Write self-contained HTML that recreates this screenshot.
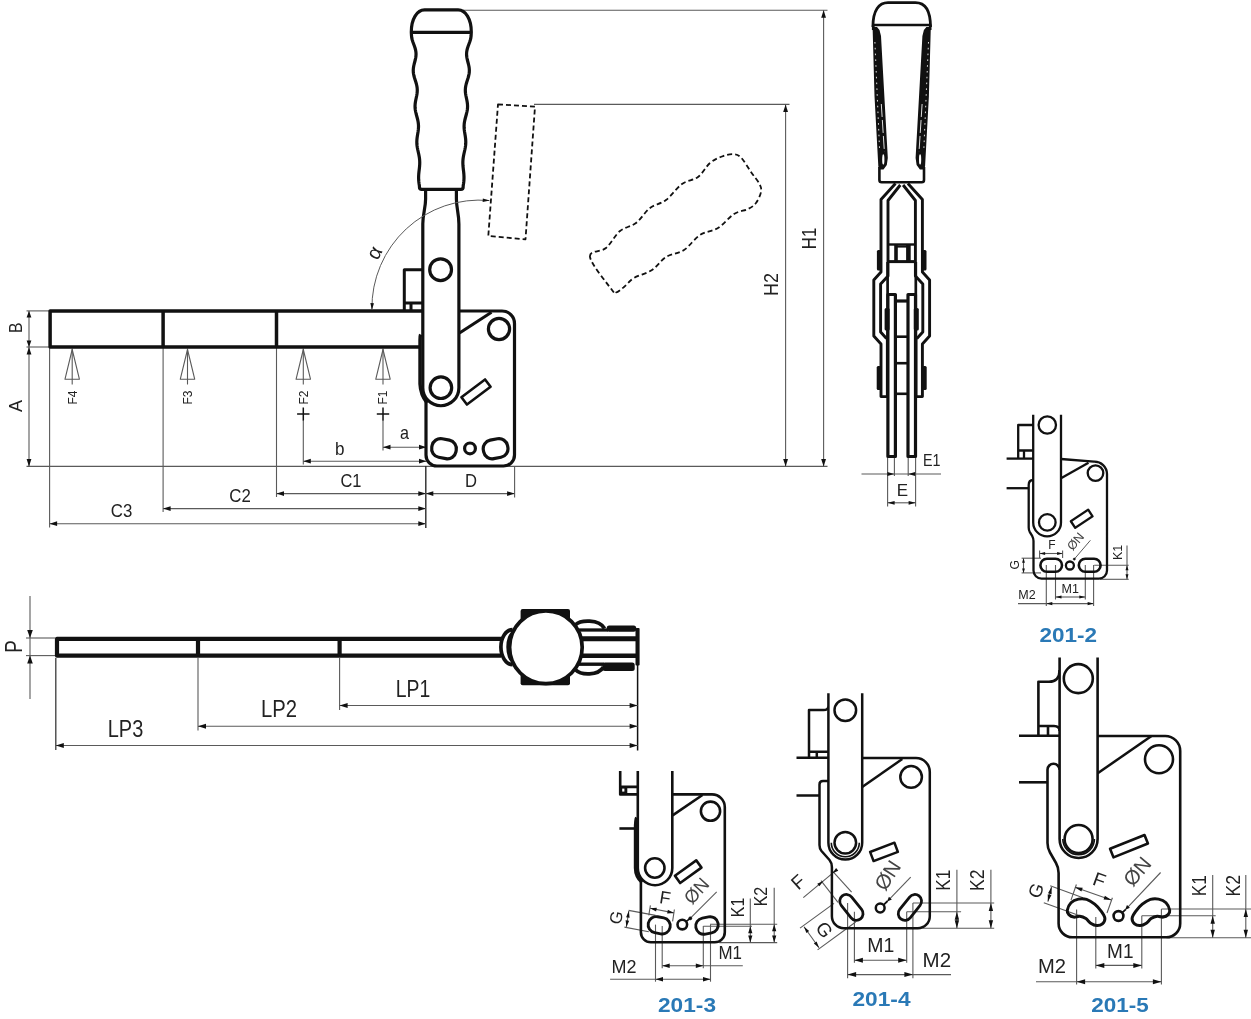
<!DOCTYPE html>
<html><head><meta charset="utf-8"><title>Vertical toggle clamp 201 - dimension drawing</title>
<style>
html,body{margin:0;padding:0;background:#fff;}
body{width:1251px;height:1019px;overflow:hidden;font-family:"Liberation Sans",sans-serif;}
svg{display:block;font-family:"Liberation Sans",sans-serif;}
svg *{stroke-linecap:butt;}
</style></head><body>
<svg width="1251" height="1019" viewBox="0 0 1251 1019" stroke-linejoin="round">
<rect x="0" y="0" width="1251" height="1019" fill="#fff"/>
<g opacity="0.999">
<g id="front">
<line x1="463" y1="10.2" x2="827.5" y2="10.2" stroke="#5a5a5a" stroke-width="1.1" />
<line x1="534" y1="104.4" x2="789.5" y2="104.4" stroke="#5a5a5a" stroke-width="1.1" />
<line x1="26.5" y1="466.4" x2="827.5" y2="466.4" stroke="#5a5a5a" stroke-width="1.1" />
<line x1="823.6" y1="10.2" x2="823.6" y2="466.4" stroke="#5a5a5a" stroke-width="1.1" />
<polygon points="823.6,10.2 826,17.7 821.2,17.7" fill="#111"/>
<polygon points="823.6,466.4 821.2,458.9 826,458.9" fill="#111"/>
<line x1="785.6" y1="104.4" x2="785.6" y2="466.4" stroke="#5a5a5a" stroke-width="1.1" />
<polygon points="785.6,104.4 788,111.9 783.2,111.9" fill="#111"/>
<polygon points="785.6,466.4 783.2,458.9 788,458.9" fill="#111"/>
<text x="816.4" y="238.5" font-size="19.7" text-anchor="middle" fill="#222" font-weight="normal" transform="rotate(-90 816.4 238.5)" textLength="21.3" lengthAdjust="spacingAndGlyphs" >H1</text>
<text x="778.2" y="284.4" font-size="19.7" text-anchor="middle" fill="#222" font-weight="normal" transform="rotate(-90 778.2 284.4)" textLength="23" lengthAdjust="spacingAndGlyphs" >H2</text>
<line x1="26.5" y1="310.9" x2="49" y2="310.9" stroke="#5a5a5a" stroke-width="1.1" />
<line x1="26.5" y1="347" x2="49" y2="347" stroke="#5a5a5a" stroke-width="1.1" />
<line x1="29" y1="310.9" x2="29" y2="347" stroke="#5a5a5a" stroke-width="1.1" />
<polygon points="29,310.9 31.4,317.4 26.6,317.4" fill="#111"/>
<polygon points="29,347 26.6,340.5 31.4,340.5" fill="#111"/>
<line x1="29" y1="347" x2="29" y2="466.4" stroke="#5a5a5a" stroke-width="1.1" />
<polygon points="29,347 31.4,354.5 26.6,354.5" fill="#111"/>
<polygon points="29,466.4 26.6,458.9 31.4,458.9" fill="#111"/>
<text x="22.3" y="327.8" font-size="19" text-anchor="middle" fill="#222" font-weight="normal" transform="rotate(-90 22.3 327.8)" textLength="10.5" lengthAdjust="spacingAndGlyphs" >B</text>
<text x="22.3" y="406" font-size="19" text-anchor="middle" fill="#222" font-weight="normal" transform="rotate(-90 22.3 406)" textLength="12" lengthAdjust="spacingAndGlyphs" >A</text>
<line x1="49.6" y1="348" x2="49.6" y2="527.5" stroke="#5a5a5a" stroke-width="1.1" />
<line x1="163.1" y1="348" x2="163.1" y2="512" stroke="#5a5a5a" stroke-width="1.1" />
<line x1="276.5" y1="348" x2="276.5" y2="497" stroke="#5a5a5a" stroke-width="1.1" />
<line x1="425.8" y1="466" x2="425.8" y2="528" stroke="#2a2a2a" stroke-width="1.4" />
<line x1="514.6" y1="466" x2="514.6" y2="497.5" stroke="#5a5a5a" stroke-width="1.1" />
<line x1="276.5" y1="493.6" x2="425.8" y2="493.6" stroke="#5a5a5a" stroke-width="1.1" />
<polygon points="276.5,493.6 284,491.2 284,496" fill="#111"/>
<polygon points="425.8,493.6 418.3,496 418.3,491.2" fill="#111"/>
<line x1="163.1" y1="508.6" x2="425.8" y2="508.6" stroke="#5a5a5a" stroke-width="1.1" />
<polygon points="163.1,508.6 170.6,506.2 170.6,511" fill="#111"/>
<polygon points="425.8,508.6 418.3,511 418.3,506.2" fill="#111"/>
<line x1="49.6" y1="523.7" x2="425.8" y2="523.7" stroke="#5a5a5a" stroke-width="1.1" />
<polygon points="49.6,523.7 57.1,521.3 57.1,526.1" fill="#111"/>
<polygon points="425.8,523.7 418.3,526.1 418.3,521.3" fill="#111"/>
<line x1="425.8" y1="493.6" x2="514.6" y2="493.6" stroke="#5a5a5a" stroke-width="1.1" />
<polygon points="425.8,493.6 433.3,491.2 433.3,496" fill="#111"/>
<polygon points="514.6,493.6 507.1,496 507.1,491.2" fill="#111"/>
<text x="351" y="486.8" font-size="19" text-anchor="middle" fill="#222" font-weight="normal" textLength="21" lengthAdjust="spacingAndGlyphs" >C1</text>
<text x="240" y="502.2" font-size="19" text-anchor="middle" fill="#222" font-weight="normal" textLength="21.5" lengthAdjust="spacingAndGlyphs" >C2</text>
<text x="121.5" y="517.3" font-size="19" text-anchor="middle" fill="#222" font-weight="normal" textLength="21.5" lengthAdjust="spacingAndGlyphs" >C3</text>
<text x="471" y="486.8" font-size="19" text-anchor="middle" fill="#222" font-weight="normal" textLength="12" lengthAdjust="spacingAndGlyphs" >D</text>
<line x1="383" y1="420" x2="383" y2="450.5" stroke="#5a5a5a" stroke-width="1.1" />
<line x1="303.3" y1="420" x2="303.3" y2="464.5" stroke="#5a5a5a" stroke-width="1.1" />
<line x1="383" y1="447.2" x2="426.5" y2="447.2" stroke="#5a5a5a" stroke-width="1.1" />
<polygon points="383,447.2 390.5,444.8 390.5,449.6" fill="#111"/>
<polygon points="426.5,447.2 419,449.6 419,444.8" fill="#111"/>
<line x1="303.3" y1="461.2" x2="426.5" y2="461.2" stroke="#5a5a5a" stroke-width="1.1" />
<polygon points="303.3,461.2 310.8,458.8 310.8,463.6" fill="#111"/>
<polygon points="426.5,461.2 419,463.6 419,458.8" fill="#111"/>
<text x="404.5" y="438.8" font-size="19" text-anchor="middle" fill="#222" font-weight="normal" textLength="9" lengthAdjust="spacingAndGlyphs" >a</text>
<text x="339.7" y="454.8" font-size="19" text-anchor="middle" fill="#222" font-weight="normal" textLength="9.5" lengthAdjust="spacingAndGlyphs" >b</text>
<line x1="72.2" y1="348.5" x2="72.2" y2="384.5" stroke="#5a5a5a" stroke-width="1.1" />
<path d="M72.2,349.5 L79.4,379.2 L65,379.2 Z" stroke="#5a5a5a" stroke-width="1.1" fill="none" />
<text x="76.5" y="397.5" font-size="12" text-anchor="middle" fill="#222" font-weight="normal" transform="rotate(-90 76.5 397.5)" >F4</text>
<line x1="187.5" y1="348.5" x2="187.5" y2="384.5" stroke="#5a5a5a" stroke-width="1.1" />
<path d="M187.5,349.5 L194.7,379.2 L180.3,379.2 Z" stroke="#5a5a5a" stroke-width="1.1" fill="none" />
<text x="191.8" y="397.5" font-size="12" text-anchor="middle" fill="#222" font-weight="normal" transform="rotate(-90 191.8 397.5)" >F3</text>
<line x1="303.3" y1="348.5" x2="303.3" y2="384.5" stroke="#5a5a5a" stroke-width="1.1" />
<path d="M303.3,349.5 L310.5,379.2 L296.1,379.2 Z" stroke="#5a5a5a" stroke-width="1.1" fill="none" />
<text x="307.6" y="397.5" font-size="12" text-anchor="middle" fill="#222" font-weight="normal" transform="rotate(-90 307.6 397.5)" >F2</text>
<line x1="383" y1="348.5" x2="383" y2="384.5" stroke="#5a5a5a" stroke-width="1.1" />
<path d="M383,349.5 L390.2,379.2 L375.8,379.2 Z" stroke="#5a5a5a" stroke-width="1.1" fill="none" />
<text x="387.3" y="397.5" font-size="12" text-anchor="middle" fill="#222" font-weight="normal" transform="rotate(-90 387.3 397.5)" >F1</text>
<line x1="297.1" y1="414" x2="309.5" y2="414" stroke="#111" stroke-width="1.5" />
<line x1="303.3" y1="407.5" x2="303.3" y2="420.5" stroke="#111" stroke-width="1.5" />
<line x1="376.8" y1="414" x2="389.2" y2="414" stroke="#111" stroke-width="1.5" />
<line x1="383" y1="407.5" x2="383" y2="420.5" stroke="#111" stroke-width="1.5" />
<path d="M498,104.3 L535,106.6 L525.5,239.3 L488.3,236 Z" stroke="#111" stroke-width="1.8" fill="none" stroke-dasharray="5 3"/>
<path d="M590,257 C589,250 601,252.33 606,248 C611,243.67 615,235.17 620,231 C625,226.83 631,226.83 636,223 C641,219.17 645,211.83 650,208 C655,204.17 660.67,204 666,200 C671.33,196 676.67,187.83 682,184 C687.33,180.17 693.33,180.5 698,177 C702.67,173.5 706,166.42 710,163 C714,159.58 718.17,157.97 722,156.5 C725.83,155.03 729.83,154.03 733,154.2 C736.17,154.37 738,154.53 741,157.5 C744,160.47 747.92,167.58 751,172 C754.08,176.42 757.83,180.67 759.5,184 C761.17,187.33 761.58,188.83 761,192 C760.42,195.17 758.17,200.17 756,203 C753.83,205.83 751.67,207.17 748,209 C744.33,210.83 739,210.83 734,214 C729,217.17 723.67,224.5 718,228 C712.33,231.5 705.67,231.33 700,235 C694.33,238.67 689.67,246.33 684,250 C678.33,253.67 671.33,253.67 666,257 C660.67,260.33 657.33,266.5 652,270 C646.67,273.5 638.67,275.17 634,278 C629.33,280.83 627,284.58 624,287 C621,289.42 618,292 616,292.5 C614,293 616.33,295.92 612,290 C607.67,284.08 591,264 590,257Z" stroke="#111" stroke-width="1.8" fill="none" stroke-dasharray="5 3"/>
<path d="M424,311 L50.1,311 L50.1,347 L419.5,347" stroke="#111" stroke-width="3.5" fill="none" />
<line x1="163.1" y1="311" x2="163.1" y2="347" stroke="#111" stroke-width="3.5" />
<line x1="276.5" y1="311" x2="276.5" y2="347" stroke="#111" stroke-width="3.5" />
<path d="M423,269.7 L404.3,269.7 L404.3,310 M404.3,303 L423,303 M411,303 L411,310" stroke="#111" stroke-width="3" fill="none" />
<path d="M458.9,311 L502,311 A12.5,12.5 0 0 1 514.5,323.5 L514.5,455 A11,11 0 0 1 503.5,466 L437,466 A11,11 0 0 1 426,455 L426,399" stroke="#111" stroke-width="3.2" fill="none" />
<circle cx="499" cy="329" r="10.6" stroke="#111" stroke-width="3.2" fill="none"/>
<line x1="459.5" y1="333" x2="491.5" y2="312.2" stroke="#111" stroke-width="3" />
<rect x="-14.8" y="-4.6" width="29.6" height="9.2" rx="0" stroke="#111" stroke-width="2.6" fill="none" transform="translate(476,392) rotate(-37)"/>
<rect x="-12.3" y="-9.4" width="24.6" height="18.8" rx="8.6" stroke="#111" stroke-width="3.2" fill="none" transform="translate(444,448.7) rotate(11)"/>
<rect x="-12.3" y="-9.4" width="24.6" height="18.8" rx="8.6" stroke="#111" stroke-width="3.2" fill="none" transform="translate(495.6,448.7) rotate(-11)"/>
<circle cx="470" cy="448.4" r="5.4" stroke="#111" stroke-width="3.2" fill="none"/>
<path d="M420.6,334.5 C420,336 420,338 420,340 L420,384 C420.3,392 423,398 427,403" stroke="#111" stroke-width="3.4" fill="none" />
<path d="M425.6,189 L425.6,199 C425.6,208 422.8,214 422.8,224 L422.8,387.7 A18.05,18.05 0 0 0 458.9,387.7 L458.9,224 C458.9,214 456.4,208 456.4,199 L456.4,189" stroke="#111" stroke-width="3.2" fill="#fff" />
<circle cx="440.6" cy="269.7" r="10.9" stroke="#111" stroke-width="3.2" fill="none"/>
<circle cx="440.9" cy="387.7" r="10.8" stroke="#111" stroke-width="3.2" fill="none"/>
<path d="M411.3,32 L411.4,34 L411.51,36 L411.78,38 L412.27,40 L412.91,42 L413.64,44 L414.38,46 L415.05,48 L415.58,50 L415.92,52 L416.05,54 L415.95,56 L415.66,58 L415.23,60 L414.71,62 L414.19,64 L413.73,66 L413.4,68 L413.25,70 L413.3,72 L413.55,74 L413.98,76 L414.54,78 L415.17,80 L415.82,82 L416.4,84 L416.86,86 L417.16,88 L417.28,90 L417.21,92 L416.98,94 L416.62,96 L416.2,98 L415.78,100 L415.41,102 L415.15,104 L415.03,106 L415.09,108 L415.31,110 L415.69,112 L416.17,114 L416.71,116 L417.26,118 L417.75,120 L418.14,122 L418.4,124 L418.51,126 L418.47,128 L418.29,130 L418.02,132 L417.69,134 L417.36,136 L417.08,138 L416.89,140 L416.82,142 L416.88,144 L417.08,146 L417.4,148 L417.8,150 L418.25,152 L418.7,154 L419.1,156 L419.43,158 L419.64,160 L419.74,162 L419.72,164 L419.6,166 L419.41,168 L419.18,170 L418.94,172 L418.75,174 L418.63,176 L418.6,178 L418.67,180 L418.85,182 L419.11,184 L419.43,186 L419.43,187 Q419.43,189.3 421.73,189.3 L460.87,189.3 Q463.17,189.3 463.17,187 L463.17,186 L463.49,184 L463.75,182 L463.93,180 L464,178 L463.97,176 L463.85,174 L463.66,172 L463.42,170 L463.19,168 L463,166 L462.88,164 L462.86,162 L462.96,160 L463.17,158 L463.5,156 L463.9,154 L464.35,152 L464.8,150 L465.2,148 L465.52,146 L465.72,144 L465.78,142 L465.71,140 L465.52,138 L465.24,136 L464.91,134 L464.58,132 L464.31,130 L464.13,128 L464.09,126 L464.2,124 L464.46,122 L464.85,120 L465.34,118 L465.89,116 L466.43,114 L466.91,112 L467.29,110 L467.51,108 L467.57,106 L467.45,104 L467.19,102 L466.82,100 L466.4,98 L465.98,96 L465.62,94 L465.39,92 L465.32,90 L465.44,88 L465.74,86 L466.2,84 L466.78,82 L467.43,80 L468.06,78 L468.62,76 L469.05,74 L469.3,72 L469.35,70 L469.2,68 L468.87,66 L468.41,64 L467.89,62 L467.37,60 L466.94,58 L466.65,56 L466.55,54 L466.68,52 L467.02,50 L467.55,48 L468.22,46 L468.96,44 L469.69,42 L470.33,40 L470.82,38 L471.09,36 L471.2,34 L471.3,32 C471.3,19 465.6,10 458.1,9.9 L424.5,9.9 C417,10 411.3,19 411.3,32 Z" stroke="#111" stroke-width="3.2" fill="#fff" />
<line x1="411.3" y1="32.3" x2="471.3" y2="32.3" stroke="#111" stroke-width="3.2" />
<path d="M371.92,309.58 A107.6,107.6 0 0 1 489.25,200.54" stroke="#5a5a5a" stroke-width="1" fill="none" />
<polygon points="371.92,310.08 370.36,303.02 373.96,303.14" fill="#111"/>
<polygon points="489.75,200.54 482.67,201.97 482.86,198.38" fill="#111"/>
<text x="380.3" y="256" font-size="20" text-anchor="middle" fill="#222" font-weight="normal" transform="rotate(-62 380.3 256)" >&#945;</text>
</g>
<g id="side">
<line x1="887.6" y1="458" x2="887.6" y2="506.5" stroke="#5a5a5a" stroke-width="1.1" />
<line x1="915.6" y1="458" x2="915.6" y2="506.5" stroke="#5a5a5a" stroke-width="1.1" />
<line x1="894.4" y1="458" x2="894.4" y2="476" stroke="#5a5a5a" stroke-width="1.1" />
<line x1="908.2" y1="458" x2="908.2" y2="476" stroke="#5a5a5a" stroke-width="1.1" />
<line x1="861.5" y1="474" x2="941" y2="474" stroke="#5a5a5a" stroke-width="1.1" />
<polygon points="894.4,474 887.4,475.9 887.4,472.1" fill="#111"/>
<polygon points="908.2,474 915.2,472.1 915.2,475.9" fill="#111"/>
<line x1="887.6" y1="502.8" x2="915.6" y2="502.8" stroke="#5a5a5a" stroke-width="1.1" />
<polygon points="887.6,502.8 894.6,500.9 894.6,504.7" fill="#111"/>
<polygon points="915.6,502.8 908.6,504.7 908.6,500.9" fill="#111"/>
<text x="923" y="466.4" font-size="17" text-anchor="start" fill="#222" font-weight="normal" textLength="17.5" lengthAdjust="spacingAndGlyphs" >E1</text>
<text x="902.3" y="495.6" font-size="17" text-anchor="middle" fill="#222" font-weight="normal" >E</text>
<polygon points="872.4,27 872.7,31 874.5,96 878.3,166 879.2,169.5 883.5,169.5 886.8,165 887.8,158 881,36 879.5,30 877,27" fill="#111"/>
<line x1="881.3" y1="104" x2="884.4" y2="152" stroke="#e0e0e0" stroke-width="1.0" stroke-dasharray="13 3"/>
<line x1="874.9" y1="42" x2="879.6" y2="150" stroke="#f4f4f4" stroke-width="0.9" stroke-dasharray="1.6 4.2"/>
<ellipse cx="883.3" cy="159.5" rx="1.1" ry="5.2" fill="#fff"/>
<polygon points="931,27 930.7,31 928.9,96 925.1,166 924.2,169.5 919.9,169.5 916.6,165 915.6,158 922.4,36 923.9,30 926.4,27" fill="#111"/>
<line x1="922.1" y1="104" x2="919" y2="152" stroke="#e0e0e0" stroke-width="1.0" stroke-dasharray="13 3"/>
<line x1="928.5" y1="42" x2="923.8" y2="150" stroke="#f4f4f4" stroke-width="0.9" stroke-dasharray="1.6 4.2"/>
<ellipse cx="920.1" cy="159.5" rx="1.1" ry="5.2" fill="#fff"/>
<path d="M872.9,27 C872.9,10 879,2.6 888,2.6 L915.4,2.6 C924.4,2.6 930.5,10 930.5,27" stroke="#111" stroke-width="2.8" fill="none" />
<line x1="872" y1="25" x2="931.4" y2="25" stroke="#111" stroke-width="2.6" />
<path d="M873.2,25 L873.2,30 M930.2,25 L930.2,30" stroke="#111" stroke-width="2.6" fill="none" />
<path d="M879.4,167 L879.4,180 Q879.4,182.3 881.7,182.3 L921.7,182.3 Q924,182.3 924,180 L924,167" stroke="#111" stroke-width="2.6" fill="none" />
<path d="M895.5,183.5 L881,199.5 L881,272 L873.8,280 L873.8,336 L881,344 L881,396.6 L888.5,396.6" stroke="#111" stroke-width="2.9" fill="none" />
<path d="M900.3,185 L888,200.5 L888,276 L880.6,284 L880.6,332 L886.5,338.5" stroke="#111" stroke-width="2.9" fill="none" />
<line x1="887.6" y1="262" x2="887.6" y2="340" stroke="#111" stroke-width="2.7" />
<rect x="887.9" y="294.5" width="7.5" height="162" rx="0" stroke="#111" stroke-width="3.2" fill="#fff" />
<line x1="887.2" y1="338" x2="887.2" y2="396.6" stroke="#111" stroke-width="2.6" />
<rect x="876.9" y="250" width="4.1" height="20.5" rx="1.5" stroke="#111" stroke-width="0" fill="#111" />
<rect x="884.6" y="308" width="5" height="22.5" rx="1.5" stroke="#111" stroke-width="0" fill="#111" />
<rect x="876.7" y="366" width="4.3" height="24" rx="1.5" stroke="#111" stroke-width="0" fill="#111" />
<path d="M907.9,183.5 L922.4,199.5 L922.4,272 L929.6,280 L929.6,336 L922.4,344 L922.4,396.6 L914.9,396.6" stroke="#111" stroke-width="2.9" fill="none" />
<path d="M903.1,185 L915.4,200.5 L915.4,276 L922.8,284 L922.8,332 L916.9,338.5" stroke="#111" stroke-width="2.9" fill="none" />
<line x1="915.8" y1="262" x2="915.8" y2="340" stroke="#111" stroke-width="2.7" />
<rect x="908" y="294.5" width="7.5" height="162" rx="0" stroke="#111" stroke-width="3.2" fill="#fff" />
<line x1="916.2" y1="338" x2="916.2" y2="396.6" stroke="#111" stroke-width="2.6" />
<rect x="922.4" y="250" width="4.1" height="20.5" rx="1.5" stroke="#111" stroke-width="0" fill="#111" />
<rect x="913.8" y="308" width="5" height="22.5" rx="1.5" stroke="#111" stroke-width="0" fill="#111" />
<rect x="922.4" y="366" width="4.3" height="24" rx="1.5" stroke="#111" stroke-width="0" fill="#111" />
<path d="M888,244.5 L915.4,244.5" stroke="#111" stroke-width="2.4" fill="none" />
<line x1="888" y1="261.6" x2="915.4" y2="261.6" stroke="#111" stroke-width="3" />
<line x1="896" y1="244" x2="896" y2="261.6" stroke="#111" stroke-width="3.6" />
<line x1="908.4" y1="244" x2="908.4" y2="261.6" stroke="#111" stroke-width="4.6" />
<line x1="897" y1="246.5" x2="908" y2="246.5" stroke="#111" stroke-width="2.2" />
<line x1="896" y1="301" x2="907.4" y2="301" stroke="#111" stroke-width="3.2" />
<line x1="896" y1="336.7" x2="907.4" y2="336.7" stroke="#111" stroke-width="2.6" />
<line x1="896" y1="363.2" x2="907.4" y2="363.2" stroke="#111" stroke-width="2.6" />
<line x1="896" y1="393.8" x2="907.4" y2="393.8" stroke="#111" stroke-width="2.6" />
</g>
<g id="top">
<line x1="30" y1="596" x2="30" y2="699" stroke="#5a5a5a" stroke-width="1.1" />
<line x1="26" y1="638" x2="55" y2="638" stroke="#5a5a5a" stroke-width="1.1" />
<line x1="26" y1="655.6" x2="55" y2="655.6" stroke="#5a5a5a" stroke-width="1.1" />
<polygon points="30,638 27.2,630 32.8,630" fill="#111"/>
<polygon points="30,655.6 32.8,663.6 27.2,663.6" fill="#111"/>
<text x="21.6" y="646.6" font-size="23.5" text-anchor="middle" fill="#222" font-weight="normal" transform="rotate(-90 21.6 646.6)" textLength="12.5" lengthAdjust="spacingAndGlyphs" >P</text>
<line x1="55.8" y1="658" x2="55.8" y2="750" stroke="#3a3a3a" stroke-width="1.3" />
<line x1="198" y1="658" x2="198" y2="730.5" stroke="#5a5a5a" stroke-width="1.1" />
<line x1="339.6" y1="658" x2="339.6" y2="710" stroke="#5a5a5a" stroke-width="1.1" />
<line x1="637.6" y1="665" x2="637.6" y2="750.5" stroke="#111" stroke-width="1.5" />
<line x1="339.6" y1="705.5" x2="637.6" y2="705.5" stroke="#5a5a5a" stroke-width="1.1" />
<polygon points="339.6,705.5 347.6,703 347.6,708" fill="#111"/>
<polygon points="637.6,705.5 629.6,708 629.6,703" fill="#111"/>
<line x1="198" y1="726.3" x2="637.6" y2="726.3" stroke="#5a5a5a" stroke-width="1.1" />
<polygon points="198,726.3 206,723.8 206,728.8" fill="#111"/>
<polygon points="637.6,726.3 629.6,728.8 629.6,723.8" fill="#111"/>
<line x1="55.8" y1="745.5" x2="637.6" y2="745.5" stroke="#5a5a5a" stroke-width="1.1" />
<polygon points="55.8,745.5 63.8,743 63.8,748" fill="#111"/>
<polygon points="637.6,745.5 629.6,748 629.6,743" fill="#111"/>
<text x="413" y="697.3" font-size="24" text-anchor="middle" fill="#222" font-weight="normal" textLength="34.5" lengthAdjust="spacingAndGlyphs" >LP1</text>
<text x="279" y="717.3" font-size="24" text-anchor="middle" fill="#222" font-weight="normal" textLength="36" lengthAdjust="spacingAndGlyphs" >LP2</text>
<text x="125.5" y="737.3" font-size="24" text-anchor="middle" fill="#222" font-weight="normal" textLength="35.5" lengthAdjust="spacingAndGlyphs" >LP3</text>
<path d="M501,638.9 L57,638.9 L57,655.7 L501,655.7" stroke="#111" stroke-width="4.2" fill="none" />
<line x1="198" y1="638.9" x2="198" y2="655.7" stroke="#111" stroke-width="4.2" />
<line x1="339.6" y1="638.9" x2="339.6" y2="655.7" stroke="#111" stroke-width="4.2" />
<path d="M512.5,629.6 A11.6,17.5 0 0 0 512.5,664.6" stroke="#111" stroke-width="3.7" fill="none" />
<path d="M513,633.6 A5.2,13.5 0 0 0 513,660.6" stroke="#111" stroke-width="3" fill="none" />
<line x1="578" y1="638.8" x2="637" y2="638.8" stroke="#111" stroke-width="5" />
<line x1="578" y1="655.7" x2="637" y2="655.7" stroke="#111" stroke-width="4.6" />
<line x1="577" y1="630" x2="608" y2="630" stroke="#111" stroke-width="3.3" />
<line x1="577" y1="664.2" x2="604" y2="664.2" stroke="#111" stroke-width="3.4" />
<rect x="606.7" y="625.4" width="29.5" height="6.3" rx="2.5" stroke="#111" stroke-width="0" fill="#111" />
<rect x="602.5" y="662.5" width="32.2" height="8.4" rx="2.5" stroke="#111" stroke-width="0" fill="#111" />
<rect x="635.5" y="628" width="4.1" height="37.5" rx="1" stroke="#111" stroke-width="0" fill="#111" />
<path d="M575.5,624.8 C580,620 599,618.5 604.5,628.5" stroke="#111" stroke-width="3.8" fill="none" />
<path d="M575.5,669.8 C581,675.5 598,676 603.5,667" stroke="#111" stroke-width="3.8" fill="none" />
<rect x="520.6" y="608.9" width="49.4" height="76.4" rx="2" stroke="#111" stroke-width="0" fill="#111" />
<circle cx="545.9" cy="647.3" r="36.3" stroke="#111" stroke-width="3.7" fill="#fff"/>
</g>
<g id="d2">
<line x1="1039.6" y1="550.5" x2="1039.6" y2="558" stroke="#5a5a5a" stroke-width="1.1" />
<line x1="1062.6" y1="550.5" x2="1062.6" y2="558" stroke="#5a5a5a" stroke-width="1.1" />
<line x1="1039.6" y1="553.5" x2="1062.6" y2="553.5" stroke="#5a5a5a" stroke-width="1.1" />
<polygon points="1039.6,553.5 1045.1,552 1045.1,555" fill="#111"/>
<polygon points="1062.6,553.5 1057.1,555 1057.1,552" fill="#111"/>
<text x="1051.8" y="549.1" font-size="12" text-anchor="middle" fill="#222" font-weight="normal">F</text>
<line x1="1021.6" y1="558.2" x2="1041" y2="558.2" stroke="#5a5a5a" stroke-width="1.1" />
<line x1="1021.6" y1="572.9" x2="1041" y2="572.9" stroke="#5a5a5a" stroke-width="1.1" />
<line x1="1023.5" y1="558.2" x2="1023.5" y2="572.9" stroke="#5a5a5a" stroke-width="1.1" />
<polygon points="1023.5,558.2 1024.9,562.7 1022.1,562.7" fill="#111"/>
<polygon points="1023.5,572.9 1022.1,568.4 1024.9,568.4" fill="#111"/>
<text x="1014.3" y="569.1" font-size="12" text-anchor="middle" fill="#222" font-weight="normal" transform="rotate(-90 1014.3 564.8)">G</text>
<line x1="1127" y1="545.4" x2="1127" y2="579.3" stroke="#5a5a5a" stroke-width="1.1" />
<line x1="1094.2" y1="565.2" x2="1128.7" y2="565.2" stroke="#5a5a5a" stroke-width="1.1" />
<line x1="1100" y1="579.3" x2="1128.7" y2="579.3" stroke="#5a5a5a" stroke-width="1.1" />
<polygon points="1127,565.2 1128.5,570.2 1125.5,570.2" fill="#111"/>
<polygon points="1127,579.3 1125.5,574.3 1128.5,574.3" fill="#111"/>
<text x="1117.2" y="556.88" font-size="12.5" text-anchor="middle" fill="#222" font-weight="normal" transform="rotate(-90 1117.2 552.4)">K1</text>
<line x1="1046.3" y1="565" x2="1046.3" y2="606" stroke="#5a5a5a" stroke-width="1.1" />
<line x1="1055.5" y1="565" x2="1055.5" y2="599.5" stroke="#5a5a5a" stroke-width="1.1" />
<line x1="1085.3" y1="565" x2="1085.3" y2="599.5" stroke="#5a5a5a" stroke-width="1.1" />
<line x1="1093.6" y1="565" x2="1093.6" y2="606" stroke="#5a5a5a" stroke-width="1.1" />
<line x1="1055.5" y1="597" x2="1085.3" y2="597" stroke="#5a5a5a" stroke-width="1.1" />
<polygon points="1055.5,597 1061.5,595.4 1061.5,598.6" fill="#111"/>
<polygon points="1085.3,597 1079.3,598.6 1079.3,595.4" fill="#111"/>
<line x1="1018" y1="603.6" x2="1093.6" y2="603.6" stroke="#5a5a5a" stroke-width="1.1" />
<polygon points="1046.3,603.6 1052.3,602 1052.3,605.2" fill="#111"/>
<polygon points="1093.6,603.6 1087.6,605.2 1087.6,602" fill="#111"/>
<text x="1070.3" y="592.68" font-size="12.5" text-anchor="middle" fill="#222" font-weight="normal">M1</text>
<text x="1027" y="599.08" font-size="12.5" text-anchor="middle" fill="#222" font-weight="normal">M2</text>
<line x1="1074.4" y1="559" x2="1090.4" y2="540.3" stroke="#5a5a5a" stroke-width="1" />
<circle cx="1074.3" cy="559.1" r="1.1" stroke="#111" stroke-width="0.5" fill="#111"/>
<text x="1075.3" y="545.77" font-size="12.5" text-anchor="middle" fill="#444" font-weight="normal" transform="rotate(-50 1075.3 541.3)">&#216;N</text>
<path d="M1061,459 L1094,461.6 A12.5,12.5 0 0 1 1107,474 L1107,570.6 A8,8 0 0 1 1099,578.6 L1041.5,578.6 A8,8 0 0 1 1033.5,570.6 L1033.5,541 Q1033.5,538.4 1032.3,536.2 L1029.7,531.8 Q1028.7,530 1028.7,527.5 L1028.7,485 Q1028.7,480 1033.2,480" stroke="#111" stroke-width="2.3" fill="none" />
<circle cx="1095.5" cy="473.1" r="7.8" stroke="#111" stroke-width="2.3" fill="none"/>
<line x1="1061" y1="478.3" x2="1088.5" y2="462.7" stroke="#111" stroke-width="2.3" />
<rect x="-10.4" y="-3.95" width="20.8" height="7.9" rx="0" stroke="#111" stroke-width="2.3" fill="none" transform="translate(1081.7,518.8) rotate(-33.6)"/>
<rect x="-10.8" y="-6.5" width="21.6" height="13" rx="6.5" stroke="#111" stroke-width="2.5999999999999996" fill="none" transform="translate(1051.2,565.3) rotate(0)"/>
<rect x="-10.9" y="-6.5" width="21.8" height="13" rx="6.5" stroke="#111" stroke-width="2.5999999999999996" fill="none" transform="translate(1089.7,565.3) rotate(0)"/>
<circle cx="1069.9" cy="565.5" r="4" stroke="#111" stroke-width="2.3" fill="none"/>
<path d="M1033.2,425 L1018.2,425 L1018.2,458.6 M1018.2,450.5 L1033.2,450.5 M1024,450.5 L1024,458.6" stroke="#111" stroke-width="2.3" fill="none" />
<line x1="1006.6" y1="458.6" x2="1033.2" y2="458.6" stroke="#111" stroke-width="2.3" />
<line x1="1006.6" y1="488.2" x2="1028.7" y2="488.2" stroke="#111" stroke-width="2.3" />
<path d="M1033.2,414.7 L1033.2,522.4 A13.9,13.9 0 0 0 1061,522.4 L1061,414.7" stroke="#111" stroke-width="2.3" fill="#fff" />
<circle cx="1047.3" cy="425" r="8.7" stroke="#111" stroke-width="2.3" fill="none"/>
<circle cx="1047.3" cy="522.4" r="8.3" stroke="#111" stroke-width="2.3" fill="none"/>
<text x="1068.2" y="642.2" font-size="20" text-anchor="middle" fill="#2a79b6" font-weight="bold" textLength="57.5" lengthAdjust="spacingAndGlyphs" >201-2</text>
</g>
<g id="d3">
<line x1="650.4" y1="905.3" x2="648.8" y2="915.4" stroke="#5a5a5a" stroke-width="1.1" />
<line x1="674.4" y1="909.5" x2="672.6" y2="921.3" stroke="#5a5a5a" stroke-width="1.1" />
<line x1="650.1" y1="908.3" x2="673.9" y2="912.9" stroke="#5a5a5a" stroke-width="1.1" />
<polygon points="650.1,908.3 656.84,907.67 656.12,911.4" fill="#111"/>
<polygon points="673.9,912.9 667.16,913.53 667.88,909.8" fill="#111"/>
<text x="665.3" y="904.04" font-size="18" text-anchor="middle" fill="#222" font-weight="normal" transform="rotate(9 665.3 897.6)">F</text>
<line x1="628.6" y1="910.4" x2="655.5" y2="915.4" stroke="#5a5a5a" stroke-width="1.1" />
<line x1="624.4" y1="927.1" x2="648.8" y2="931.8" stroke="#5a5a5a" stroke-width="1.1" />
<line x1="628.8" y1="911" x2="626.4" y2="926.9" stroke="#5a5a5a" stroke-width="1.1" />
<polygon points="628.8,911 629.61,917.7 626.05,917.16" fill="#111"/>
<polygon points="626.4,926.9 625.59,920.2 629.15,920.74" fill="#111"/>
<text x="616" y="923.49" font-size="17" text-anchor="middle" fill="#222" font-weight="normal" transform="rotate(-78 616 917.4)">G</text>
<line x1="750.3" y1="898.6" x2="750.3" y2="942.6" stroke="#5a5a5a" stroke-width="1.1" />
<line x1="774.2" y1="887.7" x2="774.2" y2="942.6" stroke="#5a5a5a" stroke-width="1.1" />
<line x1="703.3" y1="926.3" x2="752" y2="926.3" stroke="#5a5a5a" stroke-width="1.1" />
<line x1="710" y1="924.3" x2="777.2" y2="924.3" stroke="#5a5a5a" stroke-width="1.1" />
<line x1="719.3" y1="942.6" x2="777.2" y2="942.6" stroke="#5a5a5a" stroke-width="1.1" />
<polygon points="750.3,926.3 752.4,933.3 748.2,933.3" fill="#111"/>
<polygon points="750.3,942.6 748.2,935.6 752.4,935.6" fill="#111"/>
<polygon points="774.2,924.3 776.3,931.3 772.1,931.3" fill="#111"/>
<polygon points="774.2,942.6 772.1,935.6 776.3,935.6" fill="#111"/>
<text x="737.2" y="914.02" font-size="18.5" text-anchor="middle" fill="#222" font-weight="normal" transform="rotate(-90 737.2 907.4)" textLength="19.5" lengthAdjust="spacingAndGlyphs">K1</text>
<text x="760.8" y="903.12" font-size="18.5" text-anchor="middle" fill="#222" font-weight="normal" transform="rotate(-90 760.8 896.5)" textLength="19.5" lengthAdjust="spacingAndGlyphs">K2</text>
<line x1="655.5" y1="924.6" x2="655.5" y2="981.7" stroke="#5a5a5a" stroke-width="1.1" />
<line x1="662.2" y1="926" x2="662.2" y2="968.3" stroke="#5a5a5a" stroke-width="1.1" />
<line x1="703.3" y1="926" x2="703.3" y2="968.3" stroke="#5a5a5a" stroke-width="1.1" />
<line x1="710.5" y1="924.6" x2="710.5" y2="981.7" stroke="#5a5a5a" stroke-width="1.1" />
<line x1="662.2" y1="965.8" x2="742.8" y2="965.8" stroke="#5a5a5a" stroke-width="1.1" />
<polygon points="662.2,965.8 669.7,963.5 669.7,968.1" fill="#111"/>
<polygon points="703.3,965.8 695.8,968.1 695.8,963.5" fill="#111"/>
<line x1="610.1" y1="979.2" x2="710.5" y2="979.2" stroke="#5a5a5a" stroke-width="1.1" />
<polygon points="655.5,979.2 663,976.9 663,981.5" fill="#111"/>
<polygon points="710.5,979.2 703,981.5 703,976.9" fill="#111"/>
<text x="730.2" y="959.2" font-size="18.5" text-anchor="middle" fill="#222" font-weight="normal" textLength="23.5" lengthAdjust="spacingAndGlyphs" >M1</text>
<text x="624" y="972.7" font-size="18.5" text-anchor="middle" fill="#222" font-weight="normal" textLength="25" lengthAdjust="spacingAndGlyphs" >M2</text>
<line x1="690.7" y1="917.9" x2="716.7" y2="891.9" stroke="#5a5a5a" stroke-width="1.1" />
<circle cx="690.3" cy="918.3" r="1.6" stroke="#111" stroke-width="0.5" fill="#111"/>
<line x1="690.5" y1="918.1" x2="686" y2="921.6" stroke="#111" stroke-width="1.6" />
<text x="696.3" y="897.42" font-size="18.5" text-anchor="middle" fill="#444" font-weight="normal" transform="rotate(-48 696.3 890.8)">&#216;N</text>
<path d="M672.3,794.4 L712,794.4 A12.8,12.8 0 0 1 724.8,807.2 L724.8,932.3 A10,10 0 0 1 714.8,942.3 L650.9,942.3 A10,10 0 0 1 640.9,932.3 L640.9,878" stroke="#111" stroke-width="2.6" fill="none" />
<circle cx="710.5" cy="811.2" r="9.6" stroke="#111" stroke-width="2.6" fill="none"/>
<line x1="672.6" y1="815.4" x2="702.5" y2="795" stroke="#111" stroke-width="2.6" />
<rect x="-13.15" y="-4.45" width="26.3" height="8.9" rx="0" stroke="#111" stroke-width="2.6" fill="none" transform="translate(688.2,871.7) rotate(-35.9)"/>
<rect x="-11.1" y="-8.1" width="22.2" height="16.2" rx="8" stroke="#111" stroke-width="2.9" fill="none" transform="translate(659.2,925.3) rotate(11)"/>
<rect x="-11.3" y="-8.2" width="22.6" height="16.4" rx="8.1" stroke="#111" stroke-width="2.9" fill="none" transform="translate(707,925.5) rotate(-11)"/>
<circle cx="682.3" cy="924.6" r="4.8" stroke="#111" stroke-width="2.6" fill="none"/>
<path d="M620.2,771 L620.2,794.4 L637.8,794.4 M620.2,786.9 L637.8,786.9 M626,786.9 L626,794.4" stroke="#111" stroke-width="2.6" fill="none" />
<rect x="620.2" y="786.9" width="5.8" height="7.5" rx="0" stroke="#111" stroke-width="0" fill="#111" />
<rect x="622.2" y="788.6" width="2.2" height="3" rx="0" stroke="#111" stroke-width="0" fill="#fff" />
<line x1="619.4" y1="828.5" x2="635.3" y2="828.5" stroke="#111" stroke-width="2.6" />
<path d="M636.6,817.5 C635.4,820 635.4,824 635.4,829 L635.4,868 A19.4,19.4 0 0 0 642,882.5" stroke="#111" stroke-width="3.2" fill="none" />
<path d="M637.8,771 L637.8,868 A17.25,17.25 0 0 0 672.3,868 L672.3,771" stroke="#111" stroke-width="2.6" fill="#fff" />
<circle cx="654.8" cy="868" r="9.7" stroke="#111" stroke-width="2.6" fill="none"/>
<text x="687" y="1012" font-size="20" text-anchor="middle" fill="#2a79b6" font-weight="bold" textLength="58" lengthAdjust="spacingAndGlyphs" >201-3</text>
</g>
<g id="d4">
<line x1="803.3" y1="897.6" x2="833" y2="872.8" stroke="#5a5a5a" stroke-width="1.1" />
<line x1="831.9" y1="870.4" x2="851.6" y2="892.1" stroke="#5a5a5a" stroke-width="1.1" />
<line x1="821" y1="880.6" x2="838" y2="902.3" stroke="#5a5a5a" stroke-width="1.1" />
<polygon points="823.3,880.9 819.39,886.37 817.22,883.75" fill="#111"/>
<polygon points="832.2,873.5 836.11,868.03 838.28,870.65" fill="#111"/>
<text x="798" y="888.7" font-size="19" text-anchor="middle" fill="#222" font-weight="normal" transform="rotate(-42 798 881.9)">F</text>
<line x1="800" y1="928.1" x2="834" y2="903.4" stroke="#5a5a5a" stroke-width="1.1" />
<line x1="817.6" y1="949.9" x2="855.7" y2="922" stroke="#5a5a5a" stroke-width="1.1" />
<line x1="804" y1="926.8" x2="819" y2="947.8" stroke="#5a5a5a" stroke-width="1.1" />
<polygon points="804,926.8 809.16,931.1 806.39,933.08" fill="#111"/>
<polygon points="819,947.8 813.84,943.5 816.61,941.52" fill="#111"/>
<text x="824.6" y="936.4" font-size="19" text-anchor="middle" fill="#222" font-weight="normal" transform="rotate(55 824.6 929.6)">G</text>
<line x1="956.9" y1="869.8" x2="956.9" y2="928.2" stroke="#5a5a5a" stroke-width="1.1" />
<line x1="990.9" y1="869.8" x2="990.9" y2="928.2" stroke="#5a5a5a" stroke-width="1.1" />
<line x1="906.7" y1="911.8" x2="961.1" y2="911.8" stroke="#5a5a5a" stroke-width="1.1" />
<line x1="912.9" y1="903" x2="994.2" y2="903" stroke="#5a5a5a" stroke-width="1.1" />
<line x1="922.5" y1="928.2" x2="994.2" y2="928.2" stroke="#5a5a5a" stroke-width="1.1" />
<polygon points="956.9,911.8 959.1,919.8 954.7,919.8" fill="#111"/>
<polygon points="956.9,928.2 954.7,920.2 959.1,920.2" fill="#111"/>
<polygon points="990.9,903 993.1,911 988.7,911" fill="#111"/>
<polygon points="990.9,928.2 988.7,920.2 993.1,920.2" fill="#111"/>
<text x="942.2" y="887.82" font-size="21" text-anchor="middle" fill="#222" font-weight="normal" transform="rotate(-90 942.2 880.3)" textLength="21" lengthAdjust="spacingAndGlyphs">K1</text>
<text x="976.2" y="887.82" font-size="21" text-anchor="middle" fill="#222" font-weight="normal" transform="rotate(-90 976.2 880.3)" textLength="21.5" lengthAdjust="spacingAndGlyphs">K2</text>
<line x1="847.6" y1="903" x2="847.6" y2="978.2" stroke="#5a5a5a" stroke-width="1.1" />
<line x1="854.4" y1="911.8" x2="854.4" y2="962.8" stroke="#5a5a5a" stroke-width="1.1" />
<line x1="906.7" y1="911.8" x2="906.7" y2="962.8" stroke="#5a5a5a" stroke-width="1.1" />
<line x1="912.9" y1="903" x2="912.9" y2="978.2" stroke="#5a5a5a" stroke-width="1.1" />
<line x1="854.4" y1="960.2" x2="906.7" y2="960.2" stroke="#5a5a5a" stroke-width="1.1" />
<polygon points="854.4,960.2 862.9,957.7 862.9,962.7" fill="#111"/>
<polygon points="906.7,960.2 898.2,962.7 898.2,957.7" fill="#111"/>
<line x1="847.6" y1="974.6" x2="951" y2="974.6" stroke="#5a5a5a" stroke-width="1.1" />
<polygon points="847.6,974.6 856.1,972.1 856.1,977.1" fill="#111"/>
<polygon points="912.9,974.6 904.4,977.1 904.4,972.1" fill="#111"/>
<text x="880.8" y="952" font-size="20.5" text-anchor="middle" fill="#222" font-weight="normal" textLength="27" lengthAdjust="spacingAndGlyphs" >M1</text>
<text x="936.8" y="966.8" font-size="20.5" text-anchor="middle" fill="#222" font-weight="normal" textLength="28.5" lengthAdjust="spacingAndGlyphs" >M2</text>
<line x1="889" y1="899.6" x2="910.7" y2="877.2" stroke="#5a5a5a" stroke-width="1.1" />
<polygon points="886.9,901.7 888.93,896.71 891.81,899.49" fill="#111"/>
<line x1="887.6" y1="901" x2="883.6" y2="904.8" stroke="#111" stroke-width="1.8" />
<text x="887.4" y="882.54" font-size="20.5" text-anchor="middle" fill="#444" font-weight="normal" transform="rotate(-57 887.4 875.2)">&#216;N</text>
<path d="M862.2,758.1 L916,758.1 A13.8,13.8 0 0 1 929.8,771.9 L929.8,916.2 A12,12 0 0 1 917.8,928.2 L843.9,928.2 A12,12 0 0 1 831.9,916.2 L831.9,867 Q831.9,863 829.5,860 L821.5,851 Q819.5,848.6 819.5,845 L819.5,784.5 Q819.5,781.1 823,781.1 L828.4,781.1" stroke="#111" stroke-width="2.5" fill="none" />
<circle cx="911.1" cy="776.9" r="10.8" stroke="#111" stroke-width="2.5" fill="none"/>
<line x1="862.2" y1="787" x2="902.3" y2="759" stroke="#111" stroke-width="2.5" />
<rect x="-13" y="-4.9" width="26" height="9.8" rx="0" stroke="#111" stroke-width="2.5" fill="none" transform="translate(884,851.9) rotate(-20.7)"/>
<rect x="-14.65" y="-6.7" width="29.3" height="13.4" rx="6.7" stroke="#111" stroke-width="2.8" fill="none" transform="translate(851.4,907.4) rotate(51.5)"/>
<rect x="-14.65" y="-6.7" width="29.3" height="13.4" rx="6.7" stroke="#111" stroke-width="2.8" fill="none" transform="translate(909.9,907.4) rotate(-51.5)"/>
<circle cx="880.2" cy="908" r="4.4" stroke="#111" stroke-width="2.5" fill="none"/>
<path d="M828.4,706.5 Q828.2,710 823.5,710 L809,710 L809,757.8 M809,751.7 L828.4,751.7 M816.8,751.7 L816.8,757.8" stroke="#111" stroke-width="2.5" fill="none" />
<line x1="796.5" y1="757.8" x2="828.4" y2="757.8" stroke="#111" stroke-width="2.5" />
<line x1="796.5" y1="795.5" x2="819.5" y2="795.5" stroke="#111" stroke-width="2.5" />
<path d="M828.4,693.2 L828.4,842.7 A16.9,16.9 0 0 0 862.2,842.7 L862.2,693.2" stroke="#111" stroke-width="2.5" fill="#fff" />
<path d="M831.3,842.7 A14,14 0 0 0 859.3,842.7" stroke="#111" stroke-width="1.6" fill="none" />
<circle cx="845.3" cy="710.3" r="10.8" stroke="#111" stroke-width="2.5" fill="none"/>
<circle cx="845.3" cy="842.7" r="10.8" stroke="#111" stroke-width="2.5" fill="none"/>
<text x="881.5" y="1005.8" font-size="20" text-anchor="middle" fill="#2a79b6" font-weight="bold" textLength="58" lengthAdjust="spacingAndGlyphs" >201-4</text>
</g>
<g id="d5">
<line x1="1076.4" y1="884.5" x2="1071" y2="900.1" stroke="#5a5a5a" stroke-width="1.1" />
<line x1="1112.4" y1="897.8" x2="1107" y2="913" stroke="#5a5a5a" stroke-width="1.1" />
<line x1="1075" y1="887.2" x2="1111.3" y2="900.1" stroke="#5a5a5a" stroke-width="1.1" />
<polygon points="1075,887.2 1082.74,887.83 1081.4,891.6" fill="#111"/>
<polygon points="1111.3,900.1 1103.56,899.47 1104.9,895.7" fill="#111"/>
<text x="1099.5" y="886.68" font-size="19.5" text-anchor="middle" fill="#222" font-weight="normal" transform="rotate(20 1099.5 879.7)">F</text>
<line x1="1050.2" y1="885.8" x2="1083" y2="897.8" stroke="#5a5a5a" stroke-width="1.1" />
<line x1="1043.8" y1="902.8" x2="1079.8" y2="915.7" stroke="#5a5a5a" stroke-width="1.1" />
<line x1="1051.5" y1="887" x2="1047.9" y2="901.6" stroke="#5a5a5a" stroke-width="1.1" />
<polygon points="1051.5,887 1051.67,894.25 1047.98,893.34" fill="#111"/>
<polygon points="1047.9,901.6 1047.73,894.35 1051.42,895.26" fill="#111"/>
<text x="1035.8" y="897.02" font-size="18.5" text-anchor="middle" fill="#222" font-weight="normal" transform="rotate(-70 1035.8 890.4)">G</text>
<line x1="1212.7" y1="875" x2="1212.7" y2="937.7" stroke="#5a5a5a" stroke-width="1.1" />
<line x1="1245.8" y1="875" x2="1245.8" y2="937.7" stroke="#5a5a5a" stroke-width="1.1" />
<line x1="1141.8" y1="915.7" x2="1215.7" y2="915.7" stroke="#5a5a5a" stroke-width="1.1" />
<line x1="1161.4" y1="909" x2="1251" y2="909" stroke="#5a5a5a" stroke-width="1.1" />
<line x1="1166.5" y1="937.7" x2="1251" y2="937.7" stroke="#5a5a5a" stroke-width="1.1" />
<polygon points="1212.7,915.7 1214.9,923.7 1210.5,923.7" fill="#111"/>
<polygon points="1212.7,937.7 1210.5,929.7 1214.9,929.7" fill="#111"/>
<polygon points="1245.8,909 1248,917 1243.6,917" fill="#111"/>
<polygon points="1245.8,937.7 1243.6,929.7 1248,929.7" fill="#111"/>
<text x="1198" y="893.32" font-size="21" text-anchor="middle" fill="#222" font-weight="normal" transform="rotate(-90 1198 885.8)" textLength="21" lengthAdjust="spacingAndGlyphs">K1</text>
<text x="1232.1" y="893.32" font-size="21" text-anchor="middle" fill="#222" font-weight="normal" transform="rotate(-90 1232.1 885.8)" textLength="21.5" lengthAdjust="spacingAndGlyphs">K2</text>
<line x1="1076.6" y1="909.5" x2="1076.6" y2="984.4" stroke="#5a5a5a" stroke-width="1.1" />
<line x1="1095.8" y1="917" x2="1095.8" y2="968.4" stroke="#5a5a5a" stroke-width="1.1" />
<line x1="1141.8" y1="915.7" x2="1141.8" y2="968.4" stroke="#5a5a5a" stroke-width="1.1" />
<line x1="1161.4" y1="909" x2="1161.4" y2="984.4" stroke="#5a5a5a" stroke-width="1.1" />
<line x1="1095.8" y1="965.4" x2="1141.8" y2="965.4" stroke="#5a5a5a" stroke-width="1.1" />
<polygon points="1095.8,965.4 1104.3,962.9 1104.3,967.9" fill="#111"/>
<polygon points="1141.8,965.4 1133.3,967.9 1133.3,962.9" fill="#111"/>
<line x1="1036" y1="981.8" x2="1161.4" y2="981.8" stroke="#5a5a5a" stroke-width="1.1" />
<polygon points="1076.6,981.8 1085.1,979.3 1085.1,984.3" fill="#111"/>
<polygon points="1161.4,981.8 1152.9,984.3 1152.9,979.3" fill="#111"/>
<text x="1120.3" y="957.6" font-size="20.5" text-anchor="middle" fill="#222" font-weight="normal" textLength="26.4" lengthAdjust="spacingAndGlyphs" >M1</text>
<text x="1052" y="973.2" font-size="20.5" text-anchor="middle" fill="#222" font-weight="normal" textLength="28" lengthAdjust="spacingAndGlyphs" >M2</text>
<line x1="1127.4" y1="907.6" x2="1160.6" y2="872.5" stroke="#5a5a5a" stroke-width="1.1" />
<polygon points="1125,910.1 1126.99,905.1 1129.89,907.85" fill="#111"/>
<line x1="1125.8" y1="909.3" x2="1122" y2="912.8" stroke="#111" stroke-width="1.8" />
<text x="1137" y="878.54" font-size="20.5" text-anchor="middle" fill="#444" font-weight="normal" transform="rotate(-50 1137 871.2)">&#216;N</text>
<path d="M1097.6,736 L1165.2,736 A15,15 0 0 1 1180.2,751 L1180.2,923.5 A13.8,13.8 0 0 1 1166.4,937.3 L1072.4,937.3 A13.8,13.8 0 0 1 1058.6,923.5 L1058.6,873 Q1058.6,867.5 1056,863 L1050,852.5 Q1047.5,848 1047.5,843 L1047.5,769.7 A6,6 0 0 1 1059.5,769.7" stroke="#111" stroke-width="2.6" fill="none" />
<circle cx="1159" cy="759.2" r="14" stroke="#111" stroke-width="2.6" fill="none"/>
<line x1="1097.7" y1="773.2" x2="1151.5" y2="736" stroke="#111" stroke-width="2.6" />
<rect x="-18.55" y="-4.6" width="37.1" height="9.2" rx="0" stroke="#111" stroke-width="2.6" fill="none" transform="translate(1129,846.2) rotate(-21.8)"/>
<path d="M1067.3,910.3 C1067.65,908.33 1069.15,904.67 1071,902.8 C1072.85,900.93 1075.8,899.67 1078.4,899.1 C1081,898.53 1083.88,898.55 1086.6,899.4 C1089.32,900.25 1092.22,902.17 1094.7,904.2 C1097.18,906.23 1099.8,909.23 1101.5,911.6 C1103.2,913.97 1104.75,916.35 1104.9,918.4 C1105.05,920.45 1103.75,922.7 1102.4,923.9 C1101.05,925.1 1098.75,925.72 1096.8,925.6 C1094.85,925.48 1092.52,924.37 1090.7,923.2 C1088.88,922.03 1087.72,919.75 1085.9,918.6 C1084.08,917.45 1081.83,916.55 1079.8,916.3 C1077.77,916.05 1075.52,917.38 1073.7,917.1 C1071.88,916.82 1069.97,915.73 1068.9,914.6 C1067.83,913.47 1066.95,912.27 1067.3,910.3Z" stroke="#111" stroke-width="3.0" fill="none" />
<path d="M1169.7,910.3 C1169.35,908.33 1167.85,904.67 1166,902.8 C1164.15,900.93 1161.2,899.67 1158.6,899.1 C1156,898.53 1153.12,898.55 1150.4,899.4 C1147.68,900.25 1144.78,902.17 1142.3,904.2 C1139.82,906.23 1137.2,909.23 1135.5,911.6 C1133.8,913.97 1132.25,916.35 1132.1,918.4 C1131.95,920.45 1133.25,922.7 1134.6,923.9 C1135.95,925.1 1138.25,925.72 1140.2,925.6 C1142.15,925.48 1144.48,924.37 1146.3,923.2 C1148.12,922.03 1149.28,919.75 1151.1,918.6 C1152.92,917.45 1155.17,916.55 1157.2,916.3 C1159.23,916.05 1161.48,917.38 1163.3,917.1 C1165.12,916.82 1167.03,915.73 1168.1,914.6 C1169.17,913.47 1170.05,912.27 1169.7,910.3Z" stroke="#111" stroke-width="3.0" fill="none" />
<circle cx="1118.5" cy="916" r="4.9" stroke="#111" stroke-width="2.6" fill="none"/>
<path d="M1059.6,670 Q1059.6,681.8 1049,681.8 L1038.4,681.8 L1038.4,735.7 M1038.4,726 L1054,726 Q1059.6,726 1059.6,731 M1048,726 L1048,735.7" stroke="#111" stroke-width="2.6" fill="none" />
<line x1="1019" y1="735.7" x2="1059.6" y2="735.7" stroke="#111" stroke-width="2.6" />
<line x1="1019" y1="782.3" x2="1047.5" y2="782.3" stroke="#111" stroke-width="2.6" />
<path d="M1059.6,657.5 L1059.6,839 A19,19 0 0 0 1097.6,839 L1097.6,657.5" stroke="#111" stroke-width="2.6" fill="#fff" />
<path d="M1062.8,839 A15.8,15.8 0 0 0 1094.4,839" stroke="#111" stroke-width="1.6" fill="none" />
<circle cx="1078.3" cy="678.6" r="14.5" stroke="#111" stroke-width="2.6" fill="none"/>
<circle cx="1078.6" cy="839" r="14" stroke="#111" stroke-width="2.6" fill="none"/>
<text x="1120" y="1012" font-size="20" text-anchor="middle" fill="#2a79b6" font-weight="bold" textLength="57.5" lengthAdjust="spacingAndGlyphs" >201-5</text>
</g>
</g>
</svg>
</body></html>
